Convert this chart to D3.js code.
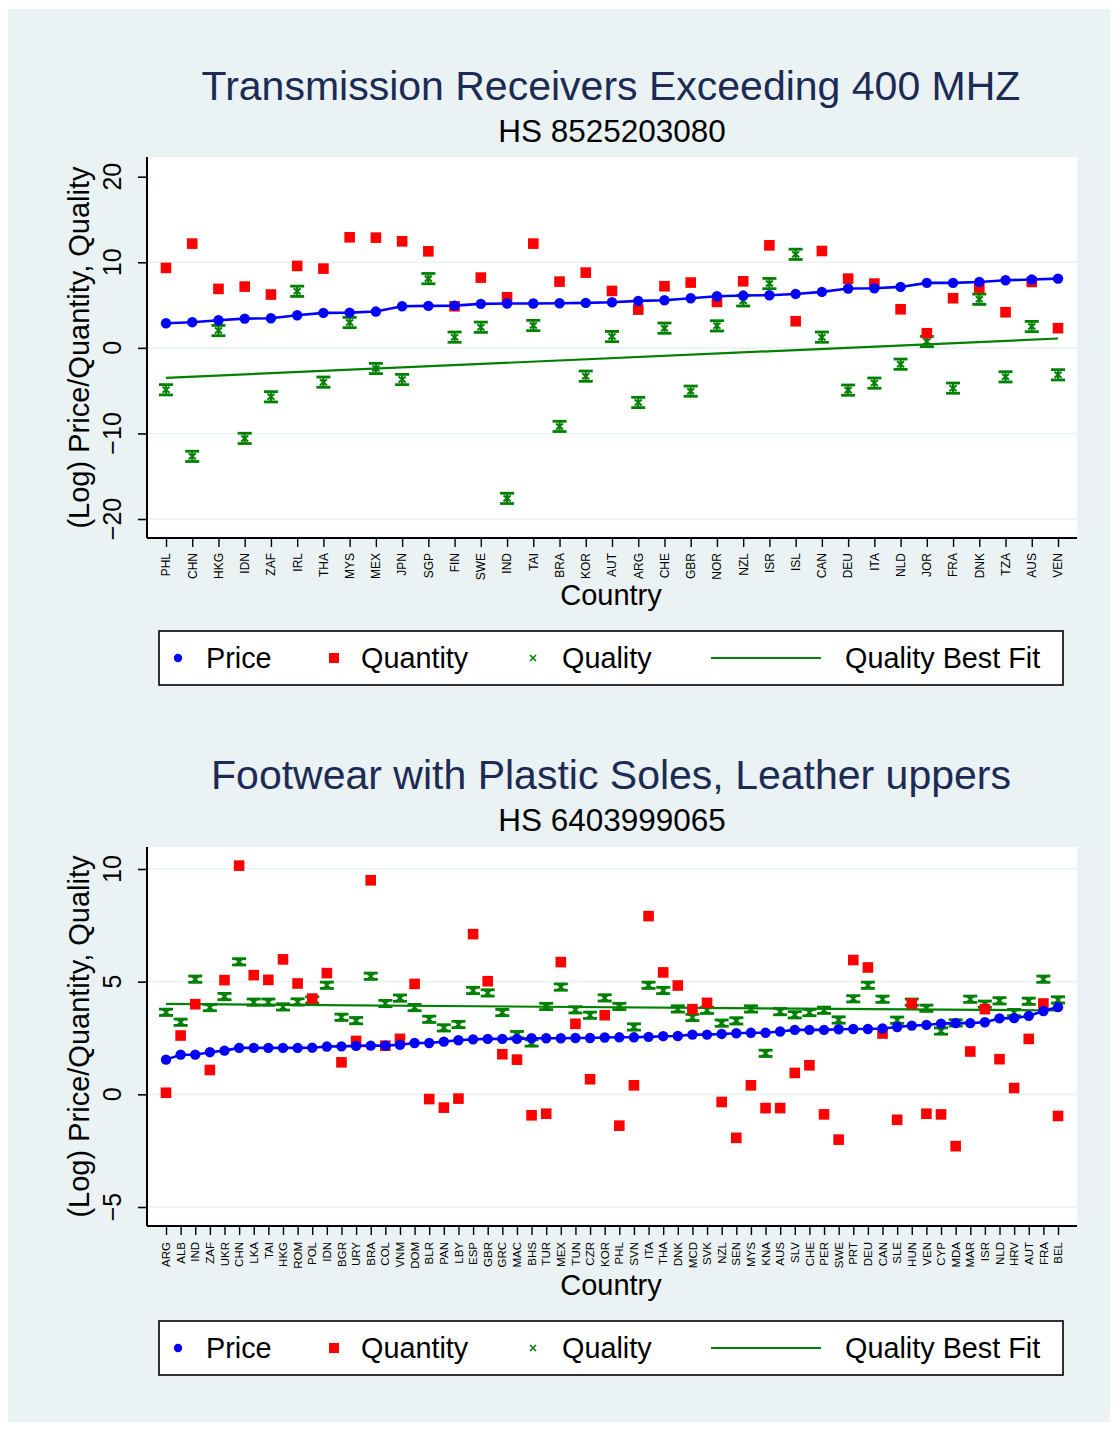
<!DOCTYPE html>
<html><head><meta charset="utf-8">
<script src="https://cdn.jsdelivr.net/npm/d3@7"></script>
<style>
body{margin:0;background:#fff}
text{font-family:"Liberation Sans",Arial,Helvetica,sans-serif}
</style>
</head><body>
<svg id="c" width="1118" height="1431"></svg>
<script>
// ---------- Panel 1: Transmission Receivers ----------
const countries1 = ["PHL","CHN","HKG","IDN","ZAF","IRL","THA","MYS","MEX","JPN","SGP","FIN","SWE","IND","TAI","BRA","KOR","AUT","ARG","CHE","GBR","NOR","NZL","ISR","ISL","CAN","DEU","ITA","NLD","JOR","FRA","DNK","TZA","AUS","VEN"];
const price1 = [2.88,3.0,3.23,3.42,3.46,3.81,4.09,4.12,4.24,4.86,4.9,4.94,5.14,5.18,5.18,5.21,5.25,5.33,5.49,5.56,5.8,6.03,6.11,6.15,6.3,6.54,6.93,6.96,7.12,7.59,7.59,7.7,7.9,7.98,8.09];
const quantity1 = [9.34,12.18,6.89,7.16,6.23,9.57,9.26,12.92,12.88,12.45,11.28,4.86,8.21,5.91,12.18,7.74,8.79,6.65,4.47,7.2,7.63,5.37,7.78,11.98,3.11,11.32,8.09,7.51,4.51,1.71,5.8,7.04,4.16,7.7,2.3];
const quality1 = [-4.9,-12.68,2.02,-10.58,-5.72,6.61,-4.01,2.96,-2.41,-3.7,8.09,1.25,2.41,-17.59,2.61,-9.18,-3.31,1.32,-6.38,2.3,-5.06,2.57,5.49,7.51,10.93,1.25,-4.94,-4.12,-1.91,0.74,-4.71,5.68,-3.39,2.49,-3.15];
const qualityCI1 = 0.6;           // half-width of quality interval
const fit1 = [-3.5, 1.09];        // best-fit value at first and last country
const yTicks1 = [-20,-10,0,10,20];
const yGrid1 = [-20,-10,0,10];

// ---------- Panel 2: Footwear ----------
const countries2 = ["ARG","ALB","IND","ZAF","UKR","CHN","LKA","TAI","HKG","ROM","POL","IDN","BGR","URY","BRA","COL","VNM","DOM","BLR","PAN","LBY","ESP","GBR","GRC","MAC","BHS","TUR","MEX","TUN","CZR","KOR","PHL","SVN","ITA","THA","DNK","MCD","SVK","NZL","SEN","MYS","KNA","AUS","SLV","CHE","PER","SWE","PRT","DEU","CAN","SLE","HUN","VEN","CYP","MDA","MAR","ISR","NLD","HRV","AUT","FRA","BEL"];
const price2 = [1.54,1.76,1.76,1.87,1.94,2.06,2.06,2.06,2.06,2.06,2.07,2.12,2.13,2.15,2.16,2.16,2.2,2.28,2.28,2.34,2.4,2.44,2.46,2.46,2.46,2.49,2.49,2.49,2.5,2.5,2.52,2.53,2.53,2.55,2.58,2.59,2.65,2.65,2.68,2.71,2.73,2.73,2.79,2.86,2.86,2.86,2.89,2.9,2.9,2.92,2.99,3.05,3.08,3.14,3.16,3.16,3.2,3.37,3.38,3.48,3.7,3.87];
const quantity2 = [0.07,2.61,4.0,1.08,5.07,10.15,5.29,5.08,5.99,4.92,4.25,5.38,1.42,2.37,9.5,2.16,2.46,4.9,-0.21,-0.59,-0.19,7.11,5.02,1.78,1.54,-0.93,-0.86,5.87,3.13,0.67,3.51,-1.39,0.4,7.91,5.41,4.83,3.78,4.06,-0.34,-1.93,0.4,-0.61,-0.61,0.95,1.29,-0.89,-2.01,5.96,5.63,2.7,-1.13,4.03,-0.86,-0.89,-2.3,1.9,3.78,1.56,0.28,2.46,4.03,-0.96];
const quality2 = [3.64,3.2,5.11,3.85,4.34,5.88,4.09,4.09,3.88,4.1,4.19,4.84,3.42,3.27,5.24,4.03,4.27,3.85,3.33,2.95,3.1,4.61,4.5,3.63,2.65,2.28,3.9,4.76,3.75,3.51,4.28,3.9,2.99,4.84,4.61,3.79,3.41,3.73,3.16,3.26,3.79,1.82,3.67,3.53,3.63,3.73,3.3,4.24,4.84,4.22,3.29,4.09,3.82,2.81,3.17,4.22,4.0,4.15,3.63,4.13,5.11,4.19];
const qualityCI2 = 0.14;
const fit2 = [4.01, 3.72];
const yTicks2 = [-5,0,5,10];
const yGrid2 = [-5,0,5,10];

const legendLabels = ["Price","Quantity","Quality","Quality Best Fit"];

const BG = "#eaf2f3", BLUE = "#0000ff", RED = "#ff0000", GREEN = "#008000", NAVY = "#1c2b55";
const svg = d3.select("#c");
svg.append("rect").attr("x",8).attr("y",9).attr("width",1102).attr("height",1413).attr("fill",BG);

function fmt(v){ return v < 0 ? "\u2212" + Math.abs(v) : String(v); }

function panel(o){
  const g = svg.append("g");
  const x = d3.scalePoint().domain(o.countries).range([166,1058]);
  const y = d3.scaleLinear().domain(o.yDom).range(o.yRange);
  // plot region
  g.append("rect").attr("x",147).attr("y",o.top).attr("width",1077-147).attr("height",o.bottom-o.top).attr("fill","#fff");
  // grid
  g.selectAll(".grid").data(o.grid).join("line")
    .attr("x1",147).attr("x2",1077).attr("y1",d=>y(d)).attr("y2",d=>y(d))
    .attr("stroke",BG).attr("stroke-width",1.6);
  // titles
  g.append("text").attr("x",611).attr("y",o.titleY).attr("text-anchor","middle")
    .attr("font-size",41).attr("fill",NAVY).text(o.title);
  g.append("text").attr("x",612).attr("y",o.titleY+42).attr("text-anchor","middle")
    .attr("font-size",31.5).attr("fill","#000").text(o.sub);
  // y axis
  const ya = g.append("g").attr("transform","translate(147,0)")
    .call(d3.axisLeft(y).tickValues(o.ticks).tickSize(9).tickFormat(""));
  ya.select(".domain").attr("d",`M0,${o.top}V${o.bottom}`).attr("stroke","#000").attr("stroke-width",2);
  ya.selectAll(".tick line").attr("stroke","#000").attr("stroke-width",1.6);
  g.selectAll(".ytl").data(o.ticks).join("text")
    .attr("transform",d=>`translate(121,${y(d)}) rotate(-90)`)
    .attr("text-anchor","middle").attr("font-size",25).text(d=>fmt(d));
  g.append("text").attr("transform",`translate(89,${(o.top+o.bottom)/2}) rotate(-90)`)
    .attr("text-anchor","middle").attr("font-size",29).text("(Log) Price/Quantity, Quality");
  // x axis
  const xa = g.append("g").attr("transform",`translate(0,${o.bottom})`)
    .call(d3.axisBottom(x).tickSize(9).tickFormat(""));
  xa.select(".domain").attr("d","M147,0H1077").attr("stroke","#000").attr("stroke-width",2);
  xa.selectAll(".tick line").attr("stroke","#000").attr("stroke-width",1.4);
  g.selectAll(".xtl").data(o.countries).join("text")
    .attr("transform",d=>`translate(${x(d)},${o.labelY}) rotate(-90)`)
    .attr("dy","0.36em").attr("text-anchor","end").attr("font-size",o.xfs).text(d=>d);
  g.append("text").attr("x",611).attr("y",o.countryY).attr("text-anchor","middle")
    .attr("font-size",29).text("Country");
  // best fit line
  const n = o.countries.length;
  g.append("line").attr("x1",x(o.countries[0])).attr("x2",x(o.countries[n-1]))
    .attr("y1",y(o.fit[0])).attr("y2",y(o.fit[1])).attr("stroke",GREEN).attr("stroke-width",2.2);
  // quality markers
  const qg = g.selectAll(".q").data(o.quality).join("g")
    .attr("transform",(d,i)=>`translate(${x(o.countries[i])},0)`);
  const cw = 7;
  qg.append("line").attr("x1",0).attr("x2",0).attr("y1",d=>y(d-o.ci)).attr("y2",d=>y(d+o.ci)).attr("stroke",GREEN).attr("stroke-width",2.2);
  qg.append("line").attr("x1",-cw).attr("x2",cw).attr("y1",d=>y(d-o.ci)).attr("y2",d=>y(d-o.ci)).attr("stroke",GREEN).attr("stroke-width",2.8);
  qg.append("line").attr("x1",-cw).attr("x2",cw).attr("y1",d=>y(d+o.ci)).attr("y2",d=>y(d+o.ci)).attr("stroke",GREEN).attr("stroke-width",2.8);
  qg.append("path").attr("d",d=>{const c=y(d),h=Math.min(3,Math.abs(y(d-o.ci)-c)); return `M-3.5,${c-h}L3.5,${c+h}M3.5,${c-h}L-3.5,${c+h}`;})
    .attr("stroke",GREEN).attr("stroke-width",2).attr("fill","none");
  // quantity squares
  g.selectAll(".qs").data(o.quantity).join("rect")
    .attr("x",(d,i)=>x(o.countries[i])-5.3).attr("y",d=>y(d)-5.3)
    .attr("width",10.6).attr("height",10.6).attr("fill",RED);
  // price line + dots
  g.append("path").datum(o.price)
    .attr("d",d3.line().x((d,i)=>x(o.countries[i])).y(d=>y(d)))
    .attr("fill","none").attr("stroke",BLUE).attr("stroke-width",2.6);
  g.selectAll(".pd").data(o.price).join("circle")
    .attr("cx",(d,i)=>x(o.countries[i])).attr("cy",d=>y(d)).attr("r",5.2).attr("fill",BLUE);
  // legend
  const L = o.legendTop, cy = L+27;
  g.append("rect").attr("x",159).attr("y",L).attr("width",904).attr("height",54)
    .attr("fill","#fff").attr("stroke","#000").attr("stroke-width",1.6);
  g.append("circle").attr("cx",178).attr("cy",cy).attr("r",4.2).attr("fill",BLUE);
  g.append("rect").attr("x",329).attr("y",cy-5).attr("width",10).attr("height",10).attr("fill",RED);
  g.append("path").attr("d",`M530,${cy-3}L536,${cy+3}M536,${cy-3}L530,${cy+3}`).attr("stroke",GREEN).attr("stroke-width",1.6);
  g.append("line").attr("x1",711).attr("x2",821).attr("y1",cy).attr("y2",cy).attr("stroke",GREEN).attr("stroke-width",2.2);
  const lx = [206,361,562,845];
  legendLabels.forEach((t,i)=>{
    g.append("text").attr("x",lx[i]).attr("y",cy+10).attr("font-size",28.8).text(t);
  });
}

panel({countries:countries1, price:price1, quantity:quantity1, quality:quality1, ci:qualityCI1, fit:fit1,
  ticks:yTicks1, grid:yGrid1, yDom:[-20,20], yRange:[519,176.7], top:157, bottom:538,
  title:"Transmission Receivers Exceeding 400 MHZ", sub:"HS 8525203080", titleY:100,
  labelY:553, xfs:12, countryY:605, legendTop:631});

panel({countries:countries2, price:price2, quantity:quantity2, quality:quality2, ci:qualityCI2, fit:fit2,
  ticks:yTicks2, grid:yGrid2, yDom:[-5,10], yRange:[1207,869], top:847, bottom:1226,
  title:"Footwear with Plastic Soles, Leather uppers", sub:"HS 6403999065", titleY:789,
  labelY:1242, xfs:11.5, countryY:1295, legendTop:1321});
</script>
</body></html>
